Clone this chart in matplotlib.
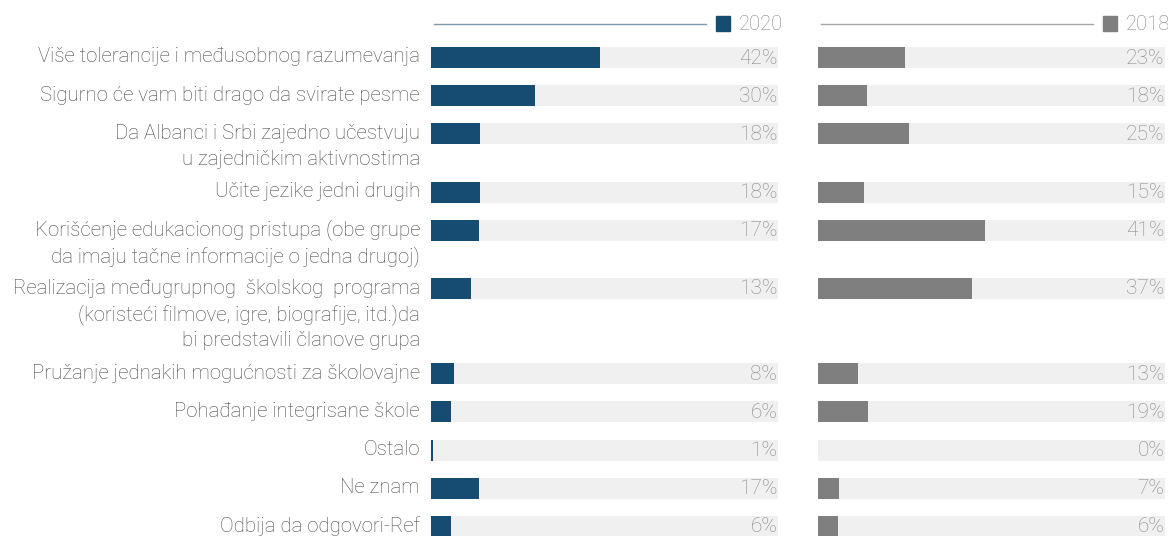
""" Two-panel bar chart: 2020 vs 2018 answers """
import matplotlib.pyplot as plt
from matplotlib.transforms import blended_transform_factory

labels = [
    "Više tolerancije i međusobnog razumevanja",
    "Sigurno će vam biti drago da svirate pesme",
    "Da Albanci i Srbi zajedno učestvuju\nu zajedničkim aktivnostima",
    "Učite jezike jedni drugih",
    "Korišćenje edukacionog pristupa (obe grupe\nda imaju tačne informacije o jedna drugoj)",
    "Realizacija međugrupnog  školskog  programa\n(koristeći filmove, igre, biografije, itd.)da\nbi predstavili članove grupa",
    "Pružanje jednakih mogućnosti za školovajne",
    "Pohađanje integrisane škole",
    "Ostalo",
    "Ne znam",
    "Odbija da odgovori-Ref",
]

# percentages printed next to the bars
pct_2020 = [42, 30, 18, 18, 17, 13, 8, 6, 1, 17, 6]
pct_2018 = [23, 18, 25, 15, 41, 37, 13, 19, 0, 7, 6]

# bar lengths as drawn in the original (share of a 0-100 track)
bar_2020 = [48.7, 30.1, 14.2, 14.2, 13.9, 11.6, 6.6, 5.8, 0.6, 13.9, 5.8]
bar_2018 = [25.2, 14.2, 26.2, 13.3, 48.0, 44.3, 11.5, 14.4, 0.0, 6.1, 5.8]

years = ["2020", "2018"]

BLUE = "#164c71"
GREY = "#7f7f7f"
TRACK = "#f0f0f0"
TEXT = "#4a4a4a"
NUM = "#878787"

W, H = 1168, 536
plt.rcParams['font.family'] = ['Roboto', 'DejaVu Sans']

fig = plt.figure(figsize=(W / 100, H / 100), dpi=100)
ax1 = fig.add_axes([431 / W, 0, 347 / W, 1])
ax2 = fig.add_axes([818 / W, 0, 347 / W, 1])

# vertical layout in pixel units, rows grow with number of label lines
extra = {1: 0, 2: 20, 3: 47}
centers = []
y = 57.5
for i, lab in enumerate(labels):
    centers.append(y)
    y += 38.2 + extra[lab.count("\n") + 1]

BAR_H = 21
LINE = 26.5


def draw_panel(ax, bars, pcts, color, year, line_color):
    ax.barh(centers, [100] * len(bars), height=BAR_H, color=TRACK, zorder=1)
    ax.barh(centers, bars, height=BAR_H, color=color, zorder=2)
    for c, p in zip(centers, pcts):
        ax.text(99.8, c + 0.5, "%d%%" % p, ha="right", va="center",
                color=NUM, fontsize=15, fontweight="light", zorder=3)
    ax.set_xlim(0, 100)
    ax.set_ylim(H, 0)
    ax.axis("off")
    # legend header: rule, square, year
    tr = ax.transAxes
    ax.plot([0.01, 0.793], [1 - 23.5 / H] * 2, color=line_color, lw=1,
            transform=tr, clip_on=False)
    ax.add_patch(plt.Rectangle((0.82, 1 - 30.5 / H), 14 / 347, 14 / H,
                               color=color, transform=tr, clip_on=False))
    ax.text(1.015, 1 - 24 / H, year, ha="right", va="center", color=NUM,
            fontsize=14.6, fontweight="light", transform=tr)


draw_panel(ax1, bar_2020, pct_2020, BLUE, years[0], "#8197aa")
draw_panel(ax2, bar_2018, pct_2018, GREY, years[1], "#a6a6a6")

# category labels, right aligned left of the first panel
trans = blended_transform_factory(ax1.transAxes, ax1.transData)
for c, lab in zip(centers, labels):
    for k, part in enumerate(lab.split("\n")):
        ax1.text(-11 / 347, c - 0.5 + k * LINE, part, ha="right",
                 va="center", color=TEXT, fontsize=14.7, fontweight="light",
                 transform=trans)

plt.savefig("out.png", dpi=100)
